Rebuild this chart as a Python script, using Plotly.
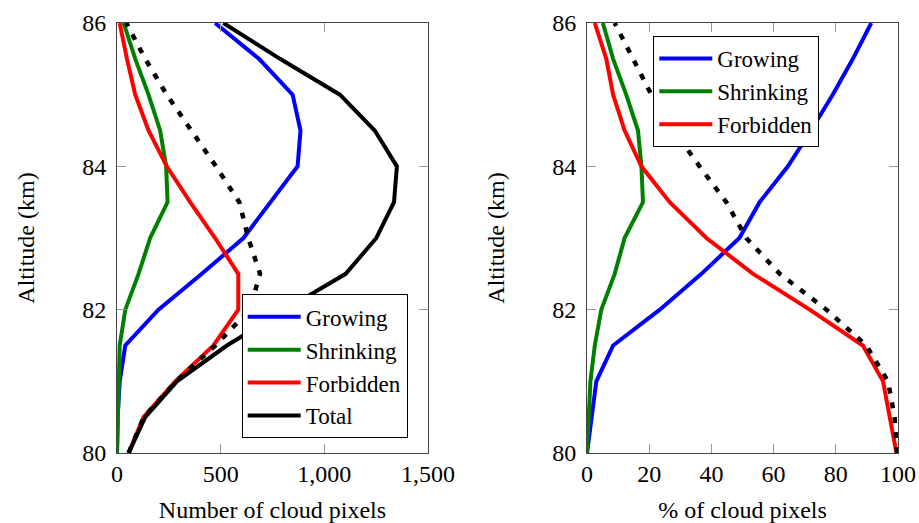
import plotly.graph_objects as go
from plotly.subplots import make_subplots

altitude = [80, 80.5, 81, 81.5, 82, 82.5, 83, 83.5, 84, 84.5, 85, 85.5, 86]

# Left panel: number of cloud pixels
growing = [0, 3, 13, 40, 200, 409, 610, 738, 871, 885, 847, 685, 473]
shrinking = [0, 3, 8, 13, 40, 104, 160, 244, 237, 208, 152, 88, 32]
forbidden = [56, 128, 281, 465, 585, 585, 473, 353, 240, 152, 88, 48, 13]
total = [56, 136, 289, 530, 810, 1103, 1251, 1336, 1350, 1243, 1075, 786, 513]
nongrowing = [56, 130, 285, 475, 640, 690, 633, 590, 477, 360, 240, 136, 45]

# Right panel: % of cloud pixels
growing_pct = [0, 1.4, 3, 8.4, 23.4, 36.8, 49, 55.5, 64.6, 72, 79, 85.5, 91.4]
shrinking_pct = [0, 0.5, 1.1, 2.5, 4.6, 8.9, 12.1, 18, 17.5, 16.4, 12.6, 8.4, 5.1]
forbidden_pct = [99.5, 97.3, 95.2, 88.7, 71.6, 53.4, 38.4, 26.6, 17.5, 12.1, 8.4, 6.2, 2.5]
nongrowing_pct = [99.7, 98.9, 96.8, 89.8, 77, 62, 51.2, 44.8, 36.2, 27.9, 20.7, 14.6, 8.9]

y_ticks = [80, 82, 84, 86]
x1_ticks = [0, 500, 1000, 1500]
x1_labels = ["0", "500", "1,000", "1,500"]
x2_ticks = [0, 20, 40, 60, 80, 100]
x2_labels = ["0", "20", "40", "60", "80", "100"]

FONT = "Liberation Serif"
FS = 24
LFS = 23
LW = 4

fig = make_subplots(rows=1, cols=2, horizontal_spacing=0.2)

def add(x, name, color, col, legend, show, dash="solid", width=LW):
    fig.add_trace(go.Scatter(x=x, y=altitude, mode="lines", name=name,
                             line=dict(color=color, width=width, dash=dash),
                             showlegend=show, legend=legend, hoverinfo="skip"),
                  row=1, col=col)

add(growing, "Growing", "#0000ff", 1, "legend", True)
add(shrinking, "Shrinking", "#008000", 1, "legend", True)
add(forbidden, "Forbidden", "#ff0000", 1, "legend", True)
add(total, "Total", "#000000", 1, "legend", True)
add(nongrowing, "Other", "#000000", 1, "legend", False, dash="6px,9px", width=4.5)

add(growing_pct, "Growing", "#0000ff", 2, "legend2", True)
add(shrinking_pct, "Shrinking", "#008000", 2, "legend2", True)
add(forbidden_pct, "Forbidden", "#ff0000", 2, "legend2", True)
add(nongrowing_pct, "Other", "#000000", 2, "legend2", False, dash="6px,9px", width=4.5)

W, H = 919, 523
L, R, T, B = 117, 21, 23, 70
pw = W - L - R
ph = H - T - B
d1 = [0, (428 - L) / pw]
d2 = [(587 - L) / pw, 1]

axis_common = dict(showgrid=False, zeroline=False, showline=True, linecolor="#444",
                   linewidth=1, mirror="allticks", ticks="inside", ticklen=9,
                   tickcolor="#999", tickwidth=1,
                   tickfont=dict(family=FONT, size=FS, color="black"))

fig.update_xaxes(axis_common)
fig.update_yaxes(axis_common)

fig.update_xaxes(row=1, col=1, domain=d1, range=[0, 1500], tickvals=x1_ticks, ticktext=x1_labels,
                 ticklabelstandoff=-1,
                 title=dict(text="Number of cloud pixels", font=dict(family=FONT, size=FS, color="black"), standoff=29))
fig.update_xaxes(row=1, col=2, domain=d2, range=[0, 100], tickvals=x2_ticks, ticktext=x2_labels,
                 ticklabelstandoff=-1,
                 title=dict(text="% of cloud pixels", font=dict(family=FONT, size=FS, color="black"), standoff=29))
for c in (1, 2):
    fig.update_yaxes(row=1, col=c, range=[80, 86], tickvals=y_ticks, ticklabelstandoff=5,
                     title=dict(text="Altitude (km)", font=dict(family=FONT, size=FS, color="black"), standoff=40))

legend_common = dict(bgcolor="white", bordercolor="black", borderwidth=1,
                     font=dict(family=FONT, size=LFS, color="black"), itemwidth=53,
                     tracegroupgap=0)

fig.update_layout(
    width=W, height=H,
    margin=dict(l=L, r=R, t=T, b=B, autoexpand=False),
    paper_bgcolor="white", plot_bgcolor="white",
    legend=dict(legend_common, x=(241.7 - L) / pw, y=(453 - 438.3) / ph,
                xanchor="left", yanchor="bottom"),
    legend2=dict(legend_common, x=(653.3 - L) / pw, y=(453 - 36) / ph,
                 xanchor="left", yanchor="top"),
)

# remove the page's default 8px body margin so the figure fills the window exactly
fig.write_html("out.html",
               config={"displayModeBar": False, "staticPlot": True},
               post_script="document.body.style.margin='0';document.body.style.overflow='hidden';")
